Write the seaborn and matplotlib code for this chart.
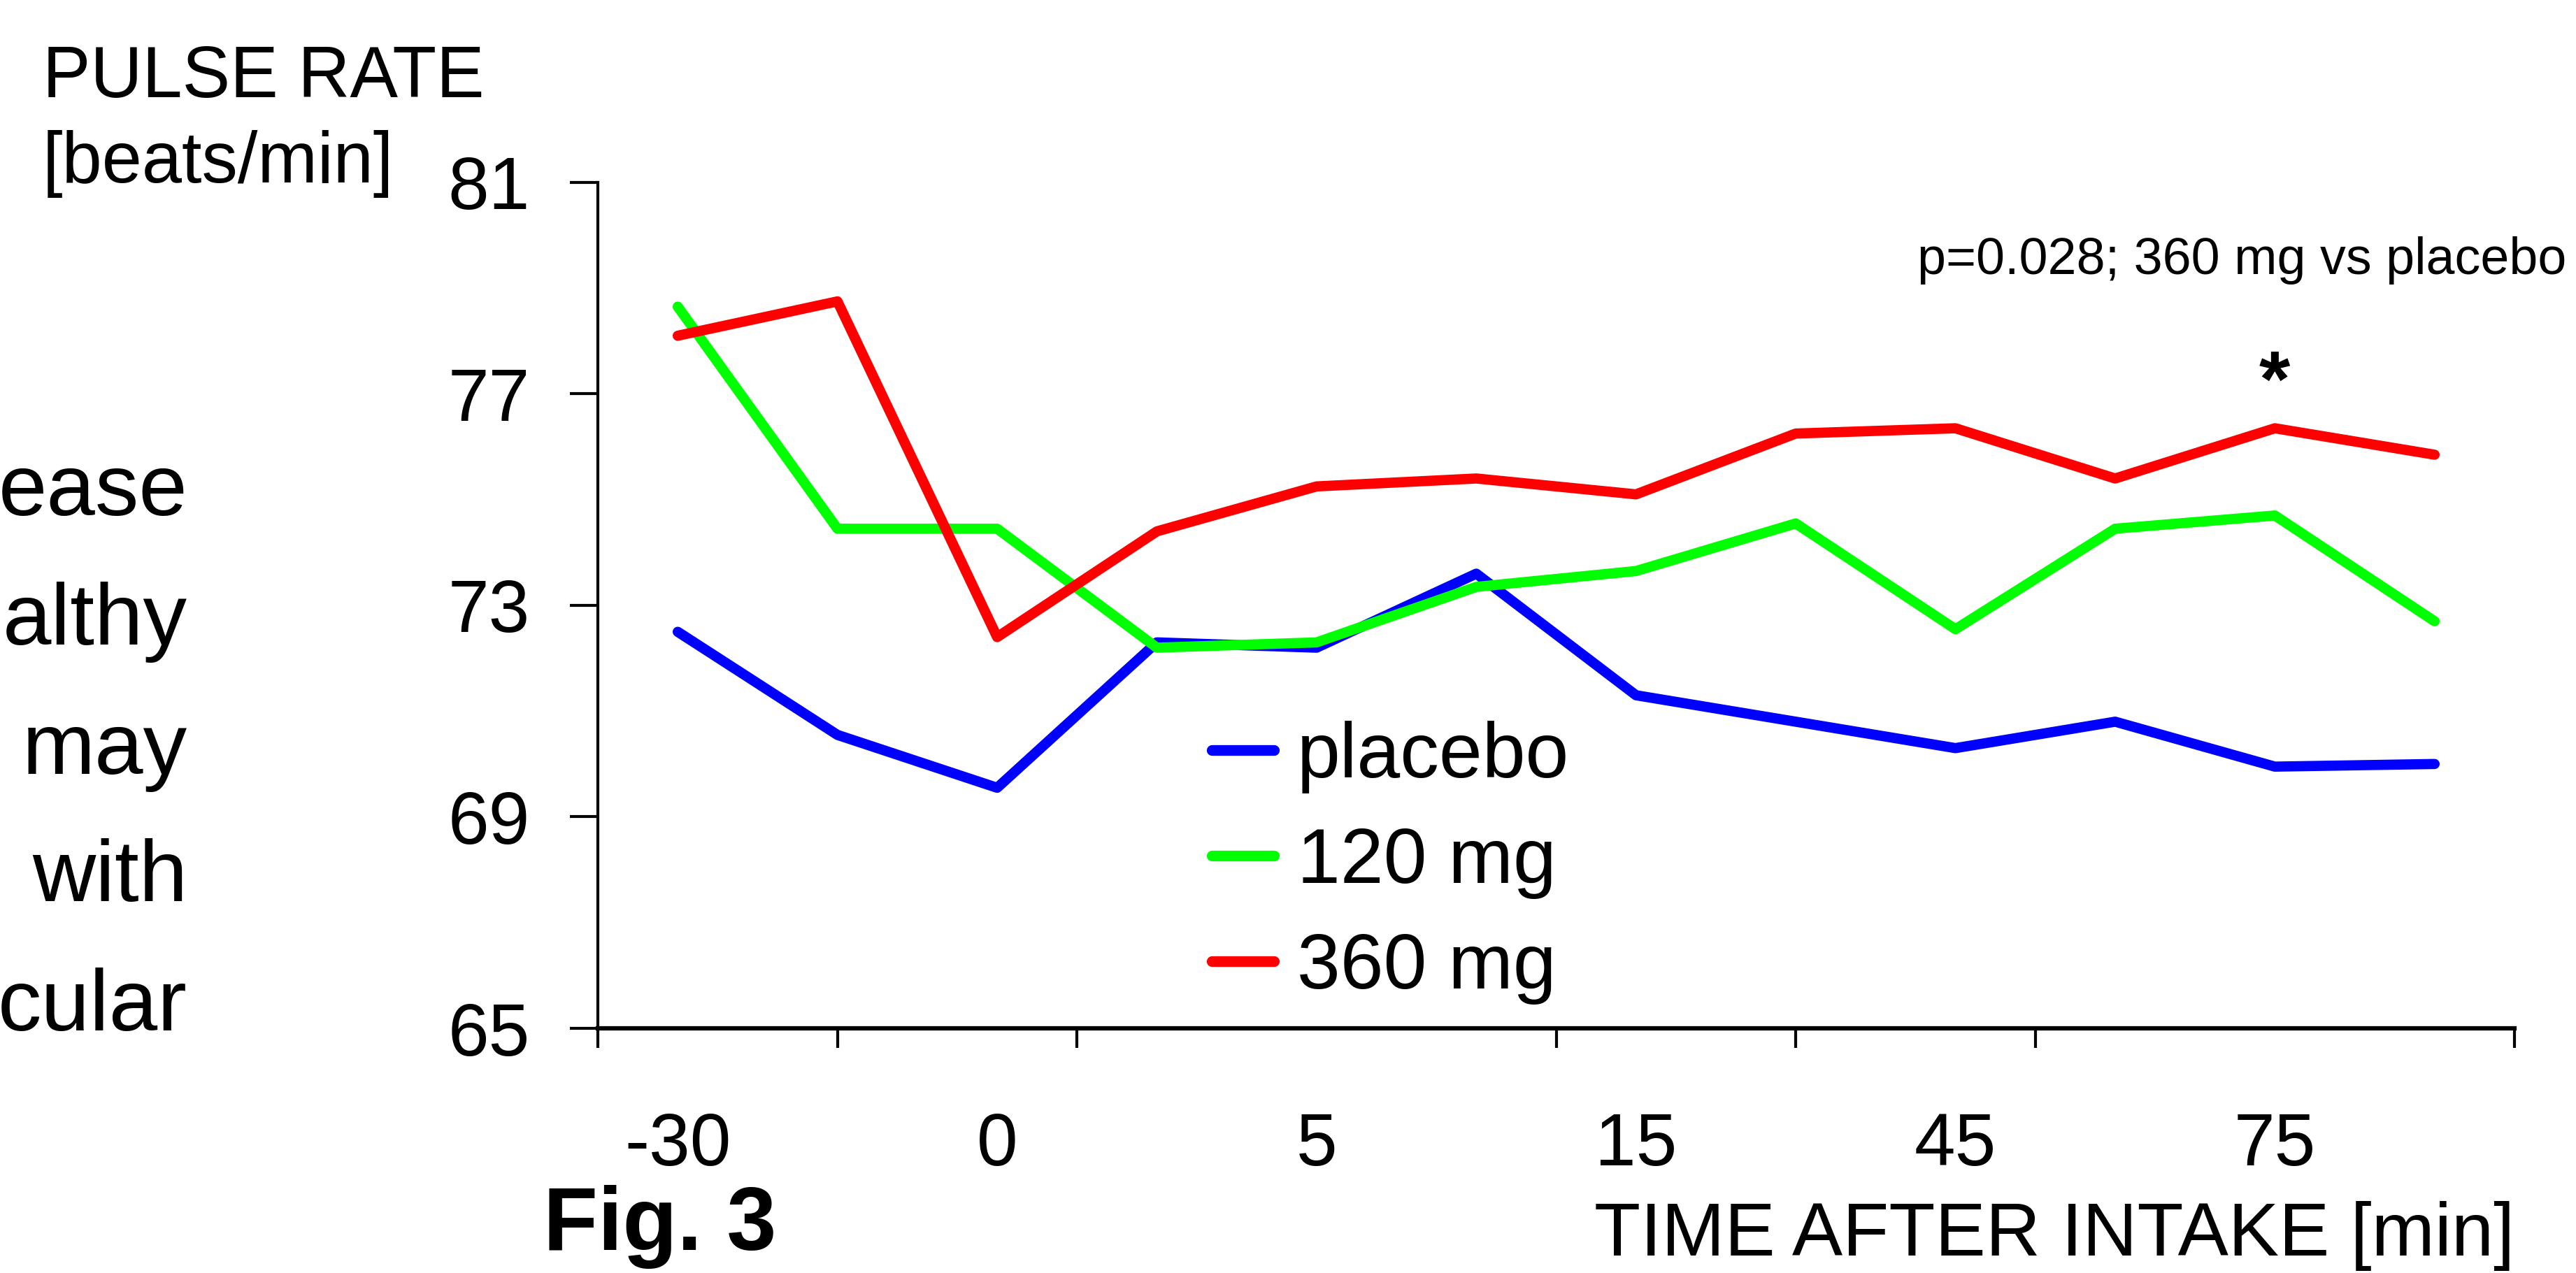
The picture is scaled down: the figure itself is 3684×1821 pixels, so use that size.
import numpy as np
import pandas as pd
import seaborn as sns
import matplotlib.pyplot as plt

# time points (min after intake); only every second one is labelled on the axis
time_points = ["-30", "-15", "0", "2.5", "5", "10", "15", "30", "45", "60", "75", "90"]
tick_labels = ["-30", "0", "5", "15", "45", "75"]

placebo = [72.5, 70.55, 69.55, 72.3, 72.2, 73.6, 71.3, 70.8, 70.3, 70.8, 69.95, 70.0]
mg120 = [78.65, 74.45, 74.45, 72.2, 72.3, 73.35, 73.65, 74.55, 72.55, 74.45, 74.7, 72.7]
mg360 = [78.1, 78.75, 72.4, 74.4, 75.25, 75.4, 75.1, 76.25, 76.35, 75.4, 76.35, 75.85]

groups = ["placebo", "120 mg", "360 mg"]
colors = ["#0000ff", "#00ff00", "#ff0000"]

df = pd.DataFrame({
    "pos": list(range(len(time_points))) * 3,
    "rate": placebo + mg120 + mg360,
    "group": [g for g in groups for _ in time_points],
})

sns.set_style("ticks")
plt.rcParams["font.family"] = ["Liberation Sans", "DejaVu Sans"]
plt.rcParams["text.color"] = "black"
plt.rcParams["xtick.color"] = "black"
plt.rcParams["ytick.color"] = "black"
plt.rcParams["axes.edgecolor"] = "black"

fig = plt.figure(figsize=(36.84, 18.21), dpi=100)
ax = fig.add_axes([0.2321, 0.1922, 0.7440, 0.6645])

sns.lineplot(data=df, x="pos", y="rate", hue="group", hue_order=groups,
             palette=colors, linewidth=10.5, ax=ax, legend=False)

ax.set_xlim(-0.5, len(time_points) - 0.5)
ax.set_ylim(65, 81)
ax.set_yticks([65, 69, 73, 77, 81])
ax.set_xticks(np.arange(0, len(time_points), 2))
ax.set_xticklabels(tick_labels)
ax.set_xticks(np.arange(-0.5, len(time_points), 1.5), minor=True)
ax.set_xlabel("")
ax.set_ylabel("")

for s in ["top", "right"]:
    ax.spines[s].set_visible(False)
ax.spines["left"].set_linewidth(3)
ax.spines["bottom"].set_linewidth(4.5)

ax.tick_params(axis="y", length=29, width=3, pad=41, labelsize=76, colors="black")
ax.tick_params(axis="x", which="major", length=0, pad=86, labelsize=76, colors="black")
ax.tick_params(axis="x", which="minor", length=20, width=3, color="black")

handles = [plt.Line2D([], [], color=c, linewidth=11) for c in colors]
ax.legend(handles, groups, loc="center left", bbox_to_anchor=(0.4704, 0.3224),
          bbox_transform=fig.transFigure, frameon=False, fontsize=80,
          handlelength=0.8, handletextpad=0.3, labelspacing=0.42,
          borderpad=0, borderaxespad=0)

ax.text(10, 77.15, "*", ha="center", va="center", fontsize=82, fontweight="bold")
fig.text(3670 / 3684, 1 - 392 / 1821, "p=0.028; 360 mg vs placebo",
         ha="right", va="baseline", fontsize=53)

fig.text(61 / 3684, 1 - 139 / 1821, "PULSE RATE", ha="left", va="baseline", fontsize=74)
fig.text(61 / 3684, 1 - 261 / 1821, "[beats/min]", ha="left", va="baseline", fontsize=74)

fig.text(3596 / 3684, 1 - 1796 / 1821, "TIME AFTER INTAKE [min]",
         ha="right", va="baseline", fontsize=78)
fig.text(777 / 3684, 1 - 1788 / 1821, "Fig. 3", ha="left", va="baseline",
         fontsize=92, fontweight="bold")

# cut-off text from the neighbouring slide column
side_words = ["ease", "althy", "may", "with", "cular"]
side_baselines = [737, 922, 1107, 1289, 1474]
for w, b in zip(side_words, side_baselines):
    fig.text(268 / 3684, 1 - b / 1821, w, ha="right", va="baseline", fontsize=90)

fig.savefig("out.png", dpi=100, facecolor="white")
